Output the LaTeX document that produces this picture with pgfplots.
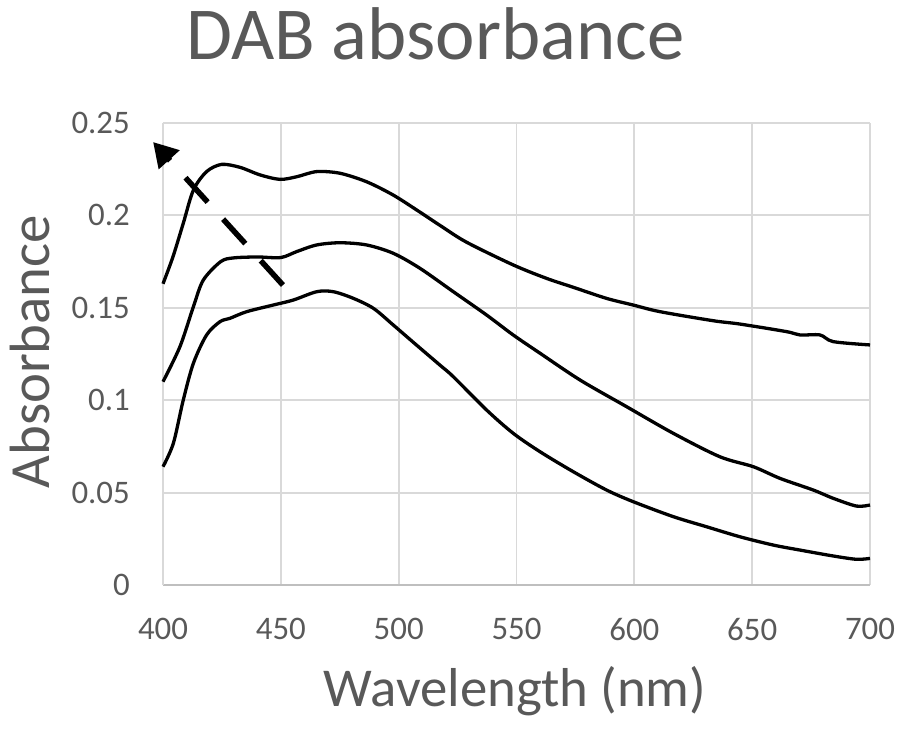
\documentclass[border=0pt]{standalone}
\usepackage{fontspec}
\setmainfont{Carlito}
\usepackage{pgfplots}
\pgfplotsset{compat=1.18}
\usetikzlibrary{arrows.meta}
\definecolor{txtgray}{HTML}{595959}
\definecolor{gridgray}{HTML}{D9D9D9}
\definecolor{axisgray}{HTML}{BFBFBF}
\begin{document}
\begin{tikzpicture}
\begin{axis}[
    scale only axis,
    width=707bp, height=462bp,
    xmin=400, xmax=700, ymin=0, ymax=0.25,
    xtick={400,450,...,700},
    ytick={0,0.05,0.1,0.15,0.2,0.25},
    scaled y ticks=false,
    /pgf/number format/.cd, fixed, precision=2, assume math mode=true,
    /pgfplots/.cd,
    axis x line=bottom, axis y line=left,
    axis line style={-},
    x axis line style={draw=axisgray, line width=2bp},
    y axis line style={draw=gridgray, line width=1.9bp},
    grid=major,
    major grid style={draw=gridgray, line width=1.9bp},
    major tick length=0pt,
    tick label style={font=\fontsize{33}{40}\selectfont, text=txtgray},
    xticklabel style={anchor=north, inner sep=0pt, yshift=-33bp},
    yticklabel style={anchor=east, inner sep=0pt, xshift=-33bp},
    title={DAB absorbance},
    title style={font=\fontsize{75}{90}\selectfont, text=txtgray,
        at={(axis description cs:0.385,1.1255)}, anchor=base, inner sep=0pt},
    xlabel={Wavelength (nm)},
    xlabel style={font=\fontsize{55}{66}\selectfont, text=txtgray,
        at={(axis description cs:0.498,-0.2634)}, anchor=base, inner sep=0pt},
    ylabel={Absorbance},
    ylabel style={font=\fontsize{57}{68}\selectfont, text=txtgray,
        at={(axis description cs:-0.16,0.505)}, anchor=base, inner sep=0pt},
    clip=false,
    ]
% top curve
\addplot[black, line width=3.3bp, smooth] coordinates {
(400,0.163) (404.2,0.1775) (408.6,0.1957) (412.9,0.2137) (418.5,0.2237)
(424.9,0.2276) (432.7,0.2260) (441.2,0.2219) (449.6,0.2195) (456.7,0.2209)
(465.2,0.2237) (475.1,0.2228) (486.4,0.2182) (497.7,0.2110) (509,0.2018)
(518,0.1942) (528.8,0.1855) (548.6,0.1732) (562.8,0.1659) (574.1,0.1611)
(588.2,0.1551) (599.5,0.1515) (610.9,0.1479) (633.5,0.1430) (644.8,0.1412)
(664.6,0.1371) (670.3,0.1353) (678.8,0.1353) (684.4,0.1317) (700,0.1299)};
% middle curve
\addplot[black, line width=3.3bp, smooth] coordinates {
(400,0.110) (407.2,0.129) (412.9,0.1506) (417.1,0.165) (424.5,0.175)
(430,0.177) (440,0.1775) (450,0.1772) (456.7,0.1804) (465.2,0.184)
(475.1,0.1852) (486.4,0.184) (497.7,0.1795) (509,0.1714) (523.2,0.1587)
(537.3,0.1461) (548.6,0.1353) (560,0.1254) (577,0.1109) (596.7,0.0965)
(616.5,0.0821) (636.3,0.0694) (650.5,0.0640) (661.8,0.0577) (675.9,0.0514)
(684.4,0.0469) (694.3,0.0427) (700,0.0433)};
% bottom curve
\addplot[black, line width=3.3bp, smooth] coordinates {
(400,0.064) (404.4,0.0767) (408.6,0.1001) (412.9,0.120) (418.5,0.1353)
(424.2,0.1425) (428.4,0.1443) (435.5,0.1479) (446.8,0.1515) (455.3,0.1542)
(465.2,0.1587) (472.3,0.1587) (480.8,0.1551) (489.3,0.1497) (497.7,0.1407)
(507.6,0.1298) (517.5,0.1190) (523.2,0.1127) (537.3,0.0947) (548.6,0.0821)
(560,0.0721) (574.1,0.0613) (588.2,0.0514) (599.5,0.0451) (616.5,0.0370)
(630.7,0.0315) (644.8,0.0261) (659,0.0216) (670.3,0.0189) (684.4,0.0157)
(694.3,0.0139) (700,0.0144)};
% dashed arrow
\addplot[black, line width=5.5bp, dash pattern=on 33bp off 23bp,
    -{Triangle[length=24bp, width=27bp]}] coordinates {
(450.9,0.1623) (395.8,0.2397)};
\end{axis}
\useasboundingbox (-163bp,-146bp) rectangle (734bp,585bp);
\end{tikzpicture}
\end{document}
